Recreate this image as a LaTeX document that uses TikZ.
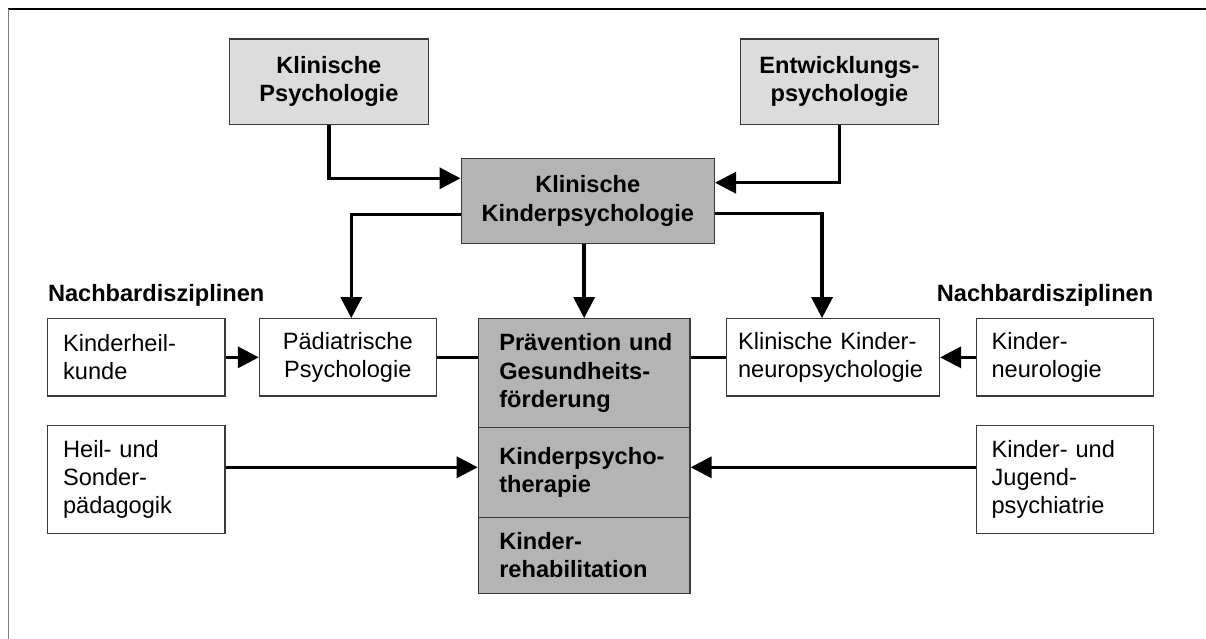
\documentclass[tikz,border=0pt]{standalone}
\usepackage{fontspec}
\setmainfont{Liberation Sans}
\usetikzlibrary{arrows.meta}
\definecolor{lightfill}{HTML}{DCDCDC}
\definecolor{darkfill}{HTML}{B4B4B4}
\definecolor{boxline}{HTML}{3A3A3A}
\definecolor{frameleft}{HTML}{808080}
\tikzset{
  fnt/.style={font=\fontsize{23.6}{28.3}\selectfont},
  bfnt/.style={font=\fontsize{23.6}{28.3}\selectfont\bfseries},
  bx/.style={draw=boxline, line width=1.2pt, inner sep=0pt},
  conn/.style={line width=3.4pt, black},
  arr/.style={conn, -{Triangle[length=21pt,width=21pt]}},
}
\begin{document}
\begin{tikzpicture}[x=1pt,y=-1pt]
\useasboundingbox (0,0) rectangle (1206,639);
% frame
\draw[black, line width=1.6pt] (8.3,9.3) -- (1206,9.3);
\draw[frameleft, line width=1.6pt] (8.3,9.3) -- (8.3,639);

% top boxes
\node[bx, bfnt, fill=lightfill, minimum width=198.6pt, minimum height=85.3pt, align=center] (kp) at (328.9,81.65) {Klinische\\Psychologie};
\node[bx, bfnt, fill=lightfill, minimum width=198.3pt, minimum height=85.3pt, align=center] (ep) at (839.45,81.65) {Entwicklungs-\\psychologie};
\node[bx, bfnt, fill=darkfill, minimum width=253.3pt, minimum height=85pt, align=center] (kkp) at (587.75,201) {Klinische\\Kinderpsychologie};

% labels
\node[bfnt, anchor=base west, inner sep=0pt] (nl) at (47.8,301) {Nachbardisziplinen};
\node[bfnt, anchor=base east, inner sep=0pt] (nr) at (1153.4,301) {Nachbardisziplinen};

% row 1
\node[bx, fnt, fill=white, minimum width=177.2pt, minimum height=77.3pt, text width=146.6pt, align=left] (kh) at (136.4,357.35) {Kinderheil-\\kunde};
\node[bx, fnt, fill=white, minimum width=176.8pt, minimum height=77.3pt, align=center] (pp) at (347.8,357.35) {Pädiatrische\\Psychologie};
\node[bx, fnt, fill=white, minimum width=213pt, minimum height=77.3pt, text width=189.8pt, align=left] (kkn) at (833,357.35) {Klinische~Kinder-\\neuropsychologie};
\node[bx, fnt, fill=white, minimum width=176.6pt, minimum height=77.3pt, text width=147pt, align=left] (kn) at (1065.1,357.35) {Kinder-\\neurologie};

% row 2
\node[bx, fnt, fill=white, minimum width=177.2pt, minimum height=108pt, text width=146.6pt, align=left] (hs) at (136.4,479.3) {Heil-~und\\Sonder-\\pädagogik};
\node[bx, fnt, fill=white, minimum width=176.6pt, minimum height=108pt, text width=147pt, align=left] (kjp) at (1065.1,479.3) {Kinder-~und\\Jugend-\\psychiatrie};

% central stack
\node[bx, bfnt, fill=darkfill, minimum width=211.7pt, minimum height=109pt, text width=169.7pt, align=left] (prev) at (584.15,373.2) {Prävention~und\\Gesundheits-\\förderung};
\node[bx, bfnt, fill=darkfill, minimum width=211.7pt, minimum height=89.6pt, text width=169.7pt, align=left] (kpt) at (584.15,472.5) {Kinderpsycho-\\therapie};
\node[bx, bfnt, fill=darkfill, minimum width=211.7pt, minimum height=76pt, text width=169.7pt, align=left] (kreha) at (584.15,555.3) {Kinder-\\rehabilitation};

% connectors
\draw[arr] (kp.south) |- ([yshift=22.7pt]kkp.west);
\draw[arr] (ep.south) |- ([yshift=18.3pt]kkp.east);
\draw[arr] ([yshift=-13.5pt]kkp.west) -| ([xshift=3.5pt]pp.north);
\draw[arr] (kkp.south -| prev.north) -- (prev.north);
\draw[arr] ([yshift=-12.5pt]kkp.east) -| ([xshift=-11pt]kkn.north);
\draw[arr] (kh.east) -- (pp.west);
\draw[conn] (pp.east) -- (pp.east -| prev.west);
\draw[conn] (kkn.west) -- (kkn.west -| prev.east);
\draw[arr] (kn.west) -- (kkn.east);
\draw[arr] ([yshift=12pt]hs.east) -- ([yshift=5.2pt]kpt.west);
\draw[arr] ([yshift=12pt]kjp.west) -- ([yshift=5.2pt]kpt.east);
\end{tikzpicture}
\end{document}
